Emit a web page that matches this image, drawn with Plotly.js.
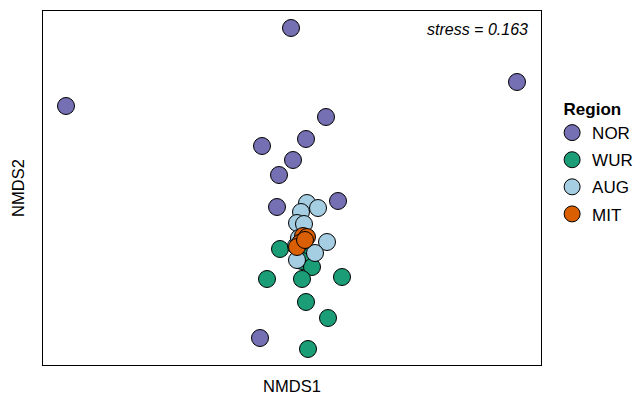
<!DOCTYPE html>
<html>
<head>
<meta charset="utf-8">
<script src="https://cdn.plot.ly/plotly-3.0.1.min.js"></script>
<style>html,body{margin:0;padding:0;background:#fff}#chart{width:642px;height:399px}</style>
</head>
<body>
<div id="chart"></div>
<script>
const regions = ["NOR", "WUR", "AUG", "MIT"];
const colors = ["#7570b3", "#1b9e77", "#a6cee3", "#d95f02"];

const norX = [-0.045, 1.085, -1.17, 0.13, 0.03, -0.19, -0.035, -0.105, -0.115, 0.19, -0.2];
const norY = [0.86, 0.59, 0.47, 0.415, 0.305, 0.27, 0.2, 0.125, -0.035, -0.005, -0.69];

const wurX = [-0.1, 0.02, 0.01, 0.06, -0.165, 0.01, 0.21, 0.03, 0.14, 0.04];
const wurY = [-0.245, -0.26, -0.305, -0.335, -0.395, -0.395, -0.385, -0.51, -0.59, -0.745];

const augX = [0.035, 0.09, 0.005, -0.015, 0.02, 0.135, -0.02, 0.075, -0.015, -0.005];
const augY = [-0.015, -0.04, -0.06, -0.115, -0.12, -0.21, -0.23, -0.265, -0.3, -0.19];

const mitX = [0.015, 0.035, 0, -0.015, 0.025];
const mitY = [-0.18, -0.185, -0.215, -0.235, -0.2];

const stressText = "stress = 0.163";

const xs = [norX, wurX, augX, mitX];
const ys = [norY, wurY, augY, mitY];

const traces = regions.map((r, i) => ({
  type: "scatter",
  mode: "markers",
  name: r,
  legendgroup: r,
  x: xs[i],
  y: ys[i],
  marker: { size: 17, color: colors[i], line: { color: "#000", width: 1 } },
  hoverinfo: "skip"
}));

const layout = {
  width: 642,
  height: 399,
  margin: { l: 43, r: 101, t: 11, b: 34, autoexpand: false },
  paper_bgcolor: "#fff",
  plot_bgcolor: "#fff",
  font: { family: "Liberation Sans, Arial, sans-serif", size: 16, color: "#000" },
  xaxis: {
    range: [-1.285, 1.205],
    showgrid: false, zeroline: false, showticklabels: false, ticks: "",
    showline: true, mirror: true, linecolor: "#000", linewidth: 1,
    title: { text: "NMDS1", font: { size: 16.5 }, standoff: 15 }
  },
  yaxis: {
    range: [-0.825, 0.945],
    showgrid: false, zeroline: false, showticklabels: false, ticks: "",
    showline: true, mirror: true, linecolor: "#000", linewidth: 1,
    title: { text: "NMDS2", font: { size: 16.5 }, standoff: 13 }
  },
  legend: {
    xref: "container", yref: "container",
    x: 0.86, y: 0.767, xanchor: "left", yanchor: "top",
    title: { text: "&nbsp;&nbsp;<b>Region</b>", font: { size: 17 } },
    font: { size: 17 },
    tracegroupgap: 2,
    itemsizing: "trace"
  },
  annotations: [{
    xref: "paper", yref: "paper", x: 0.978, y: 0.978,
    xanchor: "right", yanchor: "top", showarrow: false,
    text: "<i>" + stressText + "</i>", font: { size: 16 }
  }]
};

Plotly.newPlot("chart", traces, layout, { displayModeBar: false, staticPlot: true });
</script>
</body>
</html>
